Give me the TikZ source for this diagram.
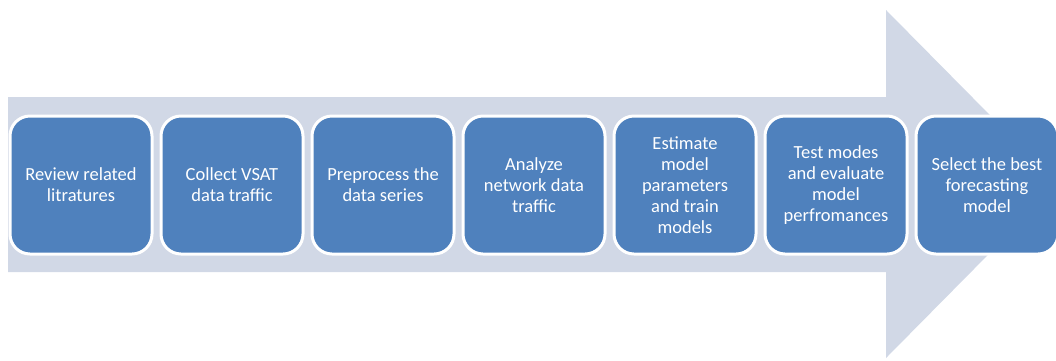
\documentclass[tikz,border=0pt]{standalone}
\usepackage{fontspec}
\setmainfont{Carlito}
\usetikzlibrary{positioning}
\definecolor{stepblue}{HTML}{4F81BD}
\definecolor{arrowgray}{HTML}{D1D8E6}
\tikzset{
    stepbox/.style={rectangle, rounded corners=20pt, draw=white, line width=3pt,
        fill=stepblue, text=white, minimum width=142pt, minimum height=138pt,
        inner sep=2pt, align=center, font=\fontsize{18.5}{21}\selectfont}
}

\begin{document}
\begin{tikzpicture}[x=1pt,y=-1pt, node distance=6pt]
    \useasboundingbox (0,0) rectangle (1056,360);
    % big background arrow
    \fill[arrowgray] (8,97) -- (886,97) -- (886,10) -- (1058,184)
        -- (886,358) -- (886,272) -- (8,272) -- cycle;
    % the seven steps
    \node[stepbox] (review) at (81,185) {Review related\\litratures};
    \node[stepbox, right=of review] (collect) {Collect VSAT\\data traffic};
    \node[stepbox, right=of collect] (preprocess) {Preprocess the\\data series};
    \node[stepbox, right=of preprocess] (analyze) {Analyze\\network data\\traffic};
    \node[stepbox, right=of analyze] (estimate) {Estimate\\model\\parameters\\and train\\models};
    \node[stepbox, right=of estimate] (test) {Test modes\\and evaluate\\model\\perfromances};
    \node[stepbox, right=of test] (select) {Select the best\\forecasting\\model};
\end{tikzpicture}
\end{document}
